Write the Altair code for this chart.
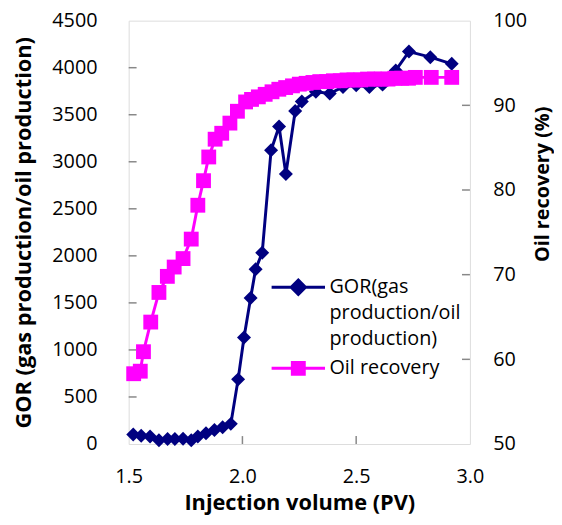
import altair as alt
import pandas as pd

# ---------------- data ----------------
pv_gor = [1.52, 1.555, 1.594, 1.633, 1.671, 1.703, 1.739, 1.775, 1.804, 1.84,
          1.877, 1.913, 1.949, 1.981, 2.007, 2.036, 2.058, 2.087, 2.126, 2.161,
          2.191, 2.232, 2.261, 2.323, 2.384, 2.442, 2.5, 2.558, 2.616, 2.674,
          2.732, 2.826, 2.92]
gor = [100, 88, 80, 39, 52, 52, 56, 39, 80, 115,
       150, 179, 214, 687, 1132, 1553, 1858, 2033, 3123, 3375,
       2870, 3540, 3640, 3743, 3726, 3796, 3813, 3796, 3820, 3971,
       4171, 4112, 4041]

pv_rec = [1.522, 1.551, 1.565, 1.597, 1.633, 1.67, 1.70, 1.739, 1.775, 1.804,
          1.829, 1.852, 1.88, 1.909, 1.945, 1.978, 2.014, 2.04, 2.07, 2.10,
          2.13, 2.16, 2.19, 2.22, 2.25, 2.28, 2.31, 2.34, 2.37, 2.40,
          2.43, 2.46, 2.49, 2.52, 2.55, 2.58, 2.61, 2.64, 2.67, 2.70,
          2.73, 2.76, 2.83, 2.92]
rec = [58.3, 58.6, 60.9, 64.4, 67.9, 69.8, 70.9, 71.9, 74.2, 78.2,
       81.1, 83.9, 86.0, 86.7, 87.9, 89.3, 90.4, 90.7, 91.0, 91.3,
       91.6, 91.9, 92.1, 92.3, 92.5, 92.6, 92.7, 92.8, 92.8, 92.9,
       92.9, 93.0, 93.0, 93.0, 93.1, 93.1, 93.1, 93.1, 93.2, 93.2,
       93.2, 93.3, 93.3, 93.3]

x_ticks = [1.5, 2.0, 2.5, 3.0]
x_inner_ticks = [2.0, 2.5]
gor_ticks = [0, 500, 1000, 1500, 2000, 2500, 3000, 3500, 4000, 4500]
gor_inner_ticks = [500, 1000, 1500, 2000, 2500, 3000, 3500, 4000]
rec_ticks = [50, 60, 70, 80, 90, 100]
rec_inner_ticks = [60, 70, 80, 90]

GOR_LABEL = "GOR(gas production/oil production)"
REC_LABEL = "Oil recovery"
NAVY = "#000080"
MAGENTA = "#FF00FF"
FONT = "Open Sans"
W, H = 345, 428

df_gor = pd.DataFrame({"pv": pv_gor, "val": gor, "series": GOR_LABEL})
df_rec = pd.DataFrame({"pv": pv_rec, "val": rec, "series": REC_LABEL})

x_scale = alt.Scale(domain=[1.5, 3.0], nice=False, zero=False)
gor_scale = alt.Scale(domain=[0, 4500], nice=False)
rec_scale = alt.Scale(domain=[50, 100], nice=False, zero=False)

x_axis = alt.Axis(values=x_ticks, format=".1f", title="Injection volume (PV)",
                  labelFont=FONT, labelFontSize=20, labelColor="#000",
                  labelPadding=23, ticks=False, tickSize=0, domain=False,
                  grid=False, labelFlush=False,
                  titleFont=FONT, titleFontSize=22, titleFontWeight="bold",
                  titleColor="#000", titlePadding=6)
gor_axis = alt.Axis(values=gor_ticks, format="d",
                    title="GOR (gas production/oil production)",
                    labelFont=FONT, labelFontSize=20, labelColor="#000",
                    labelPadding=32, ticks=False, tickSize=0, domain=False,
                    grid=False, titleFont=FONT, titleFontSize=22,
                    titleFontWeight="bold", titleColor="#000",
                    titleAngle=270, titleBaseline="middle", titleX=-106)
rec_axis = alt.Axis(values=rec_ticks, orient="right", title="Oil recovery (%)",
                    labelFont=FONT, labelFontSize=20, labelColor="#000",
                    labelPadding=23, ticks=False, tickSize=0, domain=False,
                    grid=False, titleFont=FONT, titleFontSize=20,
                    titleFontWeight="bold", titleColor="#000",
                    titleAngle=270, titleBaseline="middle", titleX=73,
                    titleY=165)

X = alt.X("pv:Q", scale=x_scale, axis=x_axis)

gor_path = "M-3,0H3M0,-0.8L0.8,0L0,0.8L-0.8,0Z"
rec_path = "M-3,0H3M-0.67,-0.67H0.67V0.67H-0.67Z"

gor_legend = alt.Legend(title=None, orient="none", legendX=161, legendY=259,
                        symbolType=gor_path, symbolSize=324,
                        symbolStrokeColor=NAVY, symbolFillColor=NAVY,
                        symbolStrokeWidth=3, labelFont=FONT, labelFontSize=20,
                        labelColor="#000", labelLimit=0, labelOffset=21,
                        labelExpr="['GOR(gas', 'production/oil', 'production)']")
rec_legend = alt.Legend(title=None, orient="none", legendX=161, legendY=341,
                        symbolType=rec_path, symbolSize=324,
                        symbolStrokeColor=MAGENTA, symbolFillColor=MAGENTA,
                        symbolStrokeWidth=3, labelFont=FONT, labelFontSize=20,
                        labelColor="#000", labelLimit=0, labelOffset=21)

gor_line = alt.Chart(df_gor).mark_line(color=NAVY, strokeWidth=3).encode(
    x=X, y=alt.Y("val:Q", scale=gor_scale, axis=gor_axis))
gor_pts = alt.Chart(df_gor).mark_point(filled=True, shape="diamond", size=200,
                                       opacity=1).encode(
    x=X, y=alt.Y("val:Q", scale=gor_scale, axis=gor_axis),
    color=alt.Color("series:N", scale=alt.Scale(domain=[GOR_LABEL], range=[NAVY]),
                    legend=gor_legend))
left_ticks = alt.Chart(pd.DataFrame({"val": gor_inner_ticks})).mark_rule(
    color="#888888", strokeWidth=1.5).encode(
    y=alt.Y("val:Q", scale=gor_scale, axis=gor_axis),
    x=alt.value(0), x2=alt.value(8))
bottom_ticks = alt.Chart(pd.DataFrame({"pv": x_inner_ticks})).mark_rule(
    color="#888888", strokeWidth=1.5).encode(
    x=X, y=alt.value(H), y2=alt.value(H - 8))

rec_line = alt.Chart(df_rec).mark_line(color=MAGENTA, strokeWidth=3).encode(
    x=X, y=alt.Y("val:Q", scale=rec_scale, axis=rec_axis))
rec_pts = alt.Chart(df_rec).mark_point(filled=True, shape="square", size=225,
                                       opacity=1).encode(
    x=X, y=alt.Y("val:Q", scale=rec_scale, axis=rec_axis),
    color=alt.Color("series:N", scale=alt.Scale(domain=[REC_LABEL], range=[MAGENTA]),
                    legend=rec_legend))
right_ticks = alt.Chart(pd.DataFrame({"val": rec_inner_ticks})).mark_rule(
    color="#888888", strokeWidth=1.5).encode(
    y=alt.Y("val:Q", scale=rec_scale, axis=rec_axis),
    x=alt.value(W), x2=alt.value(W - 8))

gor_group = alt.layer(left_ticks, bottom_ticks, gor_line, gor_pts)
rec_group = alt.layer(right_ticks, rec_line, rec_pts)

chart = alt.layer(gor_group, rec_group).resolve_scale(
    y="independent", color="independent"
).resolve_legend(color="independent").properties(
    width=W, height=H,
    autosize=alt.AutoSizeParams(type="none"),
    padding={"left": 122, "top": 10, "right": 85, "bottom": 71},
).configure_view(stroke="#1a1a1a", strokeWidth=2).configure(
    style={"guide-label": {"lineHeight": 26}}
)

chart.save("out.html", embed_options={"renderer": "svg", "actions": False})
